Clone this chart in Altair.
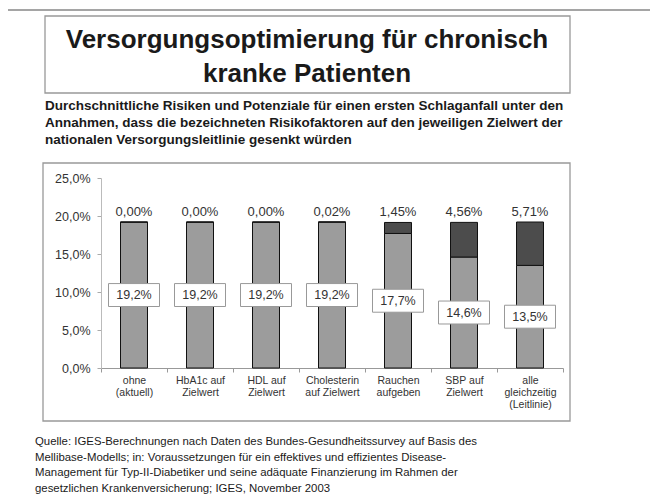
import altair as alt
import pandas as pd

categories = ["ohne|(aktuell)", "HbA1c auf|Zielwert", "HDL auf|Zielwert",
              "Cholesterin|auf Zielwert", "Rauchen|aufgeben", "SBP auf|Zielwert",
              "alle|gleichzeitig|(Leitlinie)"]
risk = [19.2, 19.2, 19.2, 19.2, 17.7, 14.6, 13.5]
potential = [0.00, 0.00, 0.00, 0.02, 1.45, 4.56, 5.71]
series = ["Risiko", "Potenzial"]
y_ticks = [0, 5, 10, 15, 20, 25]

title_lines = ["Versorgungsoptimierung für chronisch", "kranke Patienten"]
subtitle_lines = [
    "Durchschnittliche Risiken und Potenziale für einen ersten Schlaganfall unter den",
    "Annahmen, dass die bezeichneten Risikofaktoren auf den jeweiligen Zielwert der",
    "nationalen Versorgungsleitlinie gesenkt würden",
]
footer_lines = [
    "Quelle: IGES-Berechnungen nach Daten des Bundes-Gesundheitssurvey auf Basis des",
    "Mellibase-Modells; in: Voraussetzungen für ein effektives und effizientes Disease-",
    "Management für Typ-II-Diabetiker und seine adäquate Finanzierung im Rahmen der",
    "gesetzlichen Krankenversicherung; IGES, November 2003",
]

FONT = "Liberation Sans"
W, H = 462, 190

wide = pd.DataFrame({"cat": categories, "risk": risk, "potential": potential})
long = pd.concat([
    pd.DataFrame({"cat": categories, "series": series[0], "val": risk, "ord": 0}),
    pd.DataFrame({"cat": categories, "series": series[1], "val": potential, "ord": 1}),
])

xscale = alt.Scale(paddingInner=0, paddingOuter=0)
xenc = alt.X("cat:N", sort=categories, scale=xscale,
             axis=alt.Axis(title=None, labelAngle=0, labelExpr="split(datum.label, '|')",
                           labelFont=FONT, labelFontSize=10.5, labelColor="#333",
                           labelLineHeight=12, labelPadding=3, tickBand="extent",
                           tickSize=4, tickColor="#999", domainColor="#999",
                           labelBaseline="top"))
yscale = alt.Scale(domain=[0, 25], nice=False)

bars = alt.Chart(long).mark_bar(size=27, stroke="#111", strokeWidth=1).encode(
    x=xenc,
    y=alt.Y("val:Q", stack="zero", scale=yscale,
            axis=alt.Axis(title=None, values=y_ticks, grid=False, labelOverlap=False,
                          labelFlush=False,
                          labelExpr="replace(format(datum.value, '.1f'), '.', ',') + '%'",
                          labelFont=FONT, labelFontSize=12.5, labelColor="#333",
                          tickSize=4, labelPadding=7, tickColor="#aaa",
                          domainColor="#bbb")),
    color=alt.Color("series:N", scale=alt.Scale(domain=series, range=["#9c9c9c", "#4c4c4c"]),
                    legend=None),
    order=alt.Order("ord:Q"),
)

base = alt.Chart(wide).transform_calculate(
    total="datum.risk + datum.potential",
    mid="datum.risk / 2",
    ptxt="replace(format(datum.potential, '.2f'), '.', ',') + '%'",
    rtxt="replace(format(datum.risk, '.1f'), '.', ',') + '%'",
)

xplain = alt.X("cat:N", sort=categories, scale=xscale, axis=None)

top_labels = base.mark_text(font=FONT, fontSize=13, color="#333", dy=-10, baseline="middle").encode(
    x=xplain, y=alt.Y("total:Q", scale=yscale, axis=None), text="ptxt:N")

boxes = base.mark_point(shape="M-1,-0.45H1V0.45H-1Z", size=2601, filled=True,
                        color="white", stroke="#999", strokeWidth=1, opacity=1).encode(
    x=xplain, y=alt.Y("mid:Q", scale=yscale, axis=None))

in_labels = base.mark_text(font=FONT, fontSize=12.5, color="#333", baseline="middle").encode(
    x=xplain, y=alt.Y("mid:Q", scale=yscale, axis=None), text="rtxt:N")

one = alt.Data(values=[{"a": 1}])

def frame(x1, x2, y1, y2, color="#999", sw=1.3):
    return alt.Chart(one).mark_rect(fill=None, stroke=color, strokeWidth=sw, clip=False).encode(
        x=alt.value(x1), x2=alt.value(x2), y=alt.value(y1), y2=alt.value(y2))

def text_block(lines, x, y, size, bold, align, lh, color="#111"):
    return alt.Chart(one).mark_text(
        font=FONT, fontSize=size, fontWeight="bold" if bold else "normal",
        align=align, baseline="middle", lineHeight=lh, color=color).encode(
        x=alt.value(x), y=alt.value(y), text=alt.value(lines))

outer = frame(-96, 600, -168, 360, "#888", 1.5)
title_box = frame(-56, 469, -162, -85)
chart_box = frame(-58, 469, -15, 243)
title = text_block(title_lines, 206, -138, 26, True, "center", 34, "#1a1a1a")
subtitle = text_block(subtitle_lines, -56, -72, 13.5, True, "left", 17, "#1a1a1a")
footer = text_block(footer_lines, -66, 264, 11.4, False, "left", 15.7, "#1a1a1a")

chart = alt.layer(
    outer, title_box, chart_box, title, subtitle, footer,
    bars, top_labels, boxes, in_labels,
).resolve_axis(x="independent", y="independent").properties(
    width=W, height=H,
    padding={"left": 93, "top": 170, "right": 87, "bottom": 128},
    autosize=alt.AutoSizeParams(type="none"),
    background="white",
).configure_view(stroke=None)

chart.save("out.html", embed_options={"renderer": "svg", "actions": False})
